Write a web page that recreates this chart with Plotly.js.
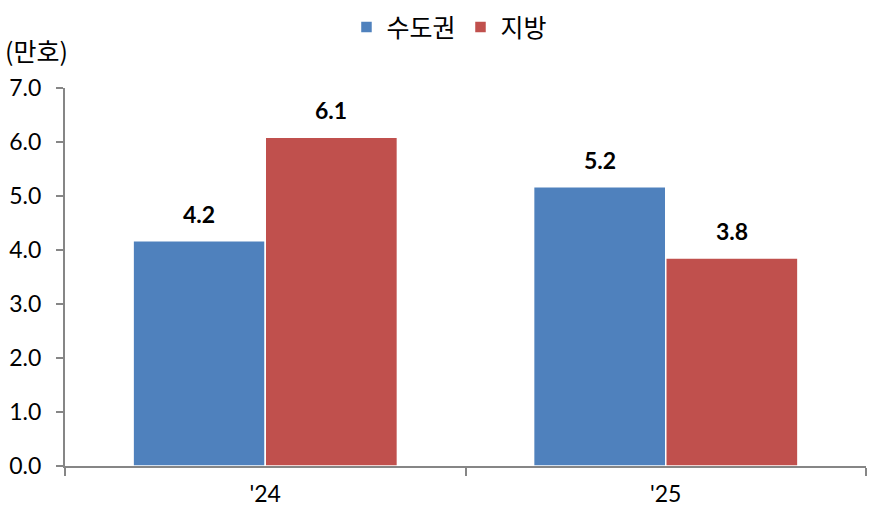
<!DOCTYPE html>
<html><head><meta charset="utf-8">
<script src="https://cdn.plot.ly/plotly-3.0.1.min.js"></script>
<style>html,body{margin:0;padding:0;background:#fff}#c{width:872px;height:515px}</style>
</head><body><div id="c"></div>
<script>
const categories = ["'24", "'25"];
const seriesNames = ["수도권", "지방"];
const capital = [4.17, 5.17];
const regional = [6.09, 3.85];
const capitalLabels = ["4.2", "5.2"];
const regionalLabels = ["6.1", "3.8"];
const yTicks = [0, 1, 2, 3, 4, 5, 6, 7];
const yTickLabels = ["0.0", "1.0", "2.0", "3.0", "4.0", "5.0", "6.0", "7.0"];

const FONT = "Lato, 'Noto Sans CJK KR', sans-serif";
const KFONT = "'Noto Sans CJK KR', sans-serif";
const colors = ["#4F81BD", "#C0504D"];

const traces = [
  {type: 'bar', name: seriesNames[0], x: categories, y: capital,
   marker: {color: colors[0], line: {color: '#ffffff', width: 1.5}}, hoverinfo: 'none'},
  {type: 'bar', name: seriesNames[1], x: categories, y: regional,
   marker: {color: colors[1], line: {color: '#ffffff', width: 1.5}}, hoverinfo: 'none'}
];

const annotations = [];
[[capital, capitalLabels, 0], [regional, regionalLabels, 1]].forEach(([vals, labs, k]) => {
  vals.forEach((v, i) => {
    annotations.push({
      x: i, y: v, xref: 'x', yref: 'y', text: '<b>' + labs[i] + '</b>',
      showarrow: false, xshift: (k === 0 ? -66 : 66), yshift: 27,
      font: {family: FONT, size: 23, color: '#000'}
    });
  });
});
annotations.push({
  xref: 'paper', yref: 'paper', x: -0.077, y: 1.0, xanchor: 'left', yanchor: 'middle', yshift: 38,
  text: '(만호)', showarrow: false, font: {family: KFONT, size: 25, color: '#000'}
});

const layout = {
  width: 872, height: 515,
  margin: {l: 65, r: 6, t: 88, b: 49, autoexpand: false},
  paper_bgcolor: '#fff', plot_bgcolor: '#fff',
  barmode: 'group', bargap: 0.34, bargroupgap: 0,
  showlegend: true,
  legend: {orientation: 'h', x: 0.48, xanchor: 'center', yref: 'container', y: 0.947, yanchor: 'middle',
           font: {family: KFONT, size: 25, color: '#000'}, itemwidth: 30, traceorder: 'normal'},
  xaxis: {
    type: 'category', showgrid: false, zeroline: false,
    showline: true, linecolor: '#868686', linewidth: 2,
    ticks: 'outside', tickson: 'boundaries', ticklen: 8, tickcolor: '#868686', tickwidth: 2,
    ticklabelstandoff: 6,
    tickfont: {family: FONT, size: 23, color: '#000'}
  },
  yaxis: {
    range: [0, 7], tickvals: yTicks, ticktext: yTickLabels,
    showgrid: false, zeroline: false,
    showline: true, linecolor: '#868686', linewidth: 2,
    ticks: 'outside', ticklen: 7, tickcolor: '#868686', tickwidth: 2,
    ticklabelstandoff: 10,
    tickfont: {family: FONT, size: 23, color: '#000'}
  },
  annotations: annotations
};

Plotly.newPlot('c', traces, layout, {displayModeBar: false, staticPlot: true});
</script></body></html>
